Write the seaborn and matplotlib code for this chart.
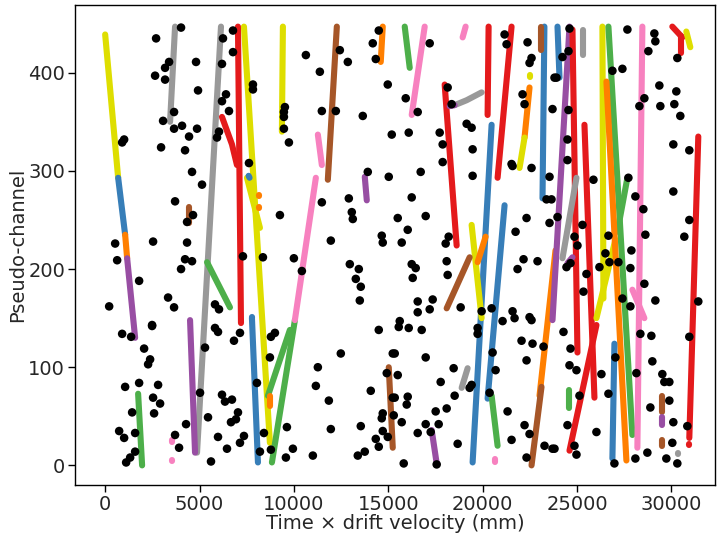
import matplotlib
matplotlib.use("Agg")
import matplotlib.pyplot as plt
import numpy as np
import pandas as pd
import seaborn as sns

# track segments: colour, x points (mm), y points (pseudo-channel)
track_color = [
    "yellow", "blue", "orange", "purple", "green", "gray", "gray", "purple",
    "pink", "pink", "green", "red", "red", "yellow", "yellow", "blue",
    "blue", "orange", "orange", "blue", "green", "green", "orange", "yellow",
    "pink", "pink", "brown", "purple", "orange", "brown", "green", "pink",
    "pink", "red", "gray", "purple", "red", "red", "blue", "blue",
    "blue", "yellow", "orange", "brown", "gray", "purple", "green", "pink",
    "orange", "brown", "orange", "yellow", "yellow", "brown", "blue", "purple",
    "red", "red", "red", "gray", "gray", "purple", "green", "yellow",
    "yellow", "green", "green", "orange", "pink", "pink", "blue", "red",
    "red", "yellow", "red", "red", "brown", "brown", "purple", "gray",
    "brown",
]
track_x = [
    [0, 688], [688, 1058], [1058, 1164], [1164, 1587], [1746, 1957],
    [3703, 3439], [6136, 4867], [4497, 4761], [3544, 3544], [3544, 3544],
    [5396, 6612], [6189, 6718, 6982], [7036, 7195], [7353, 8728], [7512, 8200],
    [7776, 8094], [7600, 7650], [8147, 8147], [8147, 8147], [7776, 7776],
    [10051, 8834], [9786, 8623], [8728, 8728], [9416, 9363],
    [11162, 10051], [11268, 11479], [12273, 11797], [13754, 13860],
    [14706, 14600], [15024, 15236], [15870, 16135], [16928, 16241],
    [19097, 18938], [17986, 18621], [18515, 19150, 19944], [18250, 18515],
    [20314, 20261], [21530, 20790], [20473, 19467], [21160, 20261],
    [23270, 23170], [19414, 19944], [19732, 20155], [18092, 19309],
    [19203, 18886], [17298, 17563], [20473, 20790], [20632, 20632],
    [23858, 23011], [23117, 22588], [22482, 22218], [22218, 21953],
    [22482, 22482], [23064, 23064], [23964, 24070], [24599, 23699],
    [24757, 25021], [25392, 25921], [26027, 24599], [25339, 25339],
    [24969, 24228], [24757, 24493], [24599, 24599], [26344, 26397],
    [26027, 27032], [26662, 27931], [27667, 27138], [26556, 27614],
    [28460, 28196], [27931, 28566], [26979, 26873], [30047, 30576],
    [30523, 30523], [30788, 31000], [31423, 30947], [30947, 30947],
    [29518, 29518], [29518, 29518], [29518, 29518], [30364, 30364],
    [4444, 4444],
]
track_y = [
    [439, 293], [293, 235], [235, 211], [211, 130], [73, 0],
    [447, 350], [447, 13], [148, 13], [26, 24], [6, 4],
    [207, 161], [355, 327, 306], [447, 145], [447, 23], [293, 242],
    [150, 3], [295, 293], [275, 274], [263, 262], [151, 150],
    [148, 3], [138, 71], [71, 61], [447, 340],
    [293, 148], [337, 306], [447, 291], [294, 270],
    [447, 411], [100, 18], [447, 405], [447, 357],
    [447, 436], [388, 224], [367, 372, 380], [366, 367],
    [447, 357], [447, 293], [347, 3], [265, 68],
    [447, 272], [245, 150], [207, 233], [160, 212],
    [99, 79], [36, 2], [71, 20], [7, 3],
    [219, 71], [80, 0], [385, 334], [334, 303],
    [398, 396], [447, 423], [447, 395], [447, 148],
    [444, 115], [347, 69], [143, 15], [444, 418],
    [293, 211], [212, 206], [77, 58], [447, 170],
    [150, 230], [447, 31], [293, 238], [391, 5],
    [447, 18], [179, 150], [124, 7], [447, 436],
    [437, 420], [442, 426], [335, 28], [22, 21],
    [71, 54], [26, 20], [49, 41], [13, 12],
    [263, 247],
]

# unassigned hits
noise_x = [
    4020, 2698, 3386, 3174, 4814, 2645, 3174, 4920, 3650, 3068, 3650, 4073, 4867, 4444,
    1005, 899, 2962, 4232, 6242, 6771, 6189, 6771, 6401, 6189, 6560, 6031, 5925,
    7829, 7829, 10633, 11374, 12432, 12855, 14177, 14336, 14495, 14971, 11479, 12220,
    13648, 15183, 9522, 9469, 9469, 9469, 9734, 7618,
    17193, 15923, 16558, 16082, 18145, 18356, 17722, 17880, 19467, 19150, 19414, 17880,
    21160, 21266, 22377, 22588, 22483, 22112, 22218, 23699, 21530, 23805,
    27667, 29095, 29148, 28778, 26873, 27402, 29360, 28566, 28302, 29412, 30259, 30153,
    30470, 30100, 30947, 30312, 24546, 24228, 24546, 24493, 24493, 24599, 23911,
    4602, 5131, 3703, 4655, 4338, 529, 2539, 4338, 635, 4232, 4602, 4020, 1799, 3333,
    3650, 212, 5819, 6031, 2486,
    13913, 15024, 12908, 11479, 13066, 13119, 9258, 11955, 14653, 14706, 7300, 8358,
    9998, 10421, 12961, 13437, 13278, 13542, 13490,
    16716, 19467, 16240, 16981, 15500, 16029, 15711, 18198, 18039, 18092, 18145, 16240,
    16452, 16293, 16558, 17351, 16558, 17193, 15606, 18833, 20473, 19944, 21583, 21689,
    22483, 22588, 21054, 22324, 21742, 22165, 22906, 21848, 23541, 23382, 23646, 23541,
    22588, 21583,
    25868, 27720, 28090, 28513, 23964, 25286, 24863, 25021, 26662, 26503, 26715, 27191,
    27878, 27825, 28619, 24440, 24652, 25498, 26186, 25339, 28566, 29148, 27825, 27402,
    30100, 30947, 30682, 31423,
    899, 1375, 2486, 2063, 2381, 2275, 1058, 1799, 2804, 2539, 2910, 1428, 2592, 741,
    1005, 1587, 1587, 1323, 1111, 3703, 3915, 4285, 5026, 5449, 5607, 5978, 6454, 6189,
    6348, 6718, 6665, 5290, 5819, 5978, 6824,
    7142, 8781, 8993, 8728, 8041, 7036, 6930, 7353, 7142, 8411, 8200, 8781, 9628, 9945,
    9575, 11003, 11268, 11162, 11850, 11955, 12484, 14495, 15236, 14071, 13542, 14706,
    14653, 15236, 15288, 14336, 14495, 14706, 14971, 13754, 13384, 14918,
    15553, 16082, 16769, 15341, 16981, 15500, 15341, 16029, 15976, 15711, 17510, 18092,
    18515, 18462, 17775, 16981, 16558, 17669, 17246, 18674, 15817, 19732, 19732, 20526,
    20685, 19309, 20367, 21319, 22059, 22641, 23223, 22324, 22218, 22483, 21530, 23276,
    23699, 22324, 17563, 19414,
    24281, 24652, 24599, 24969, 26291, 26662, 25128, 24493, 24863, 24969, 23805, 26027,
    27032, 28354, 28936, 28989, 28143, 28883, 29518, 29624, 29889, 29889, 30100, 30047,
    28725, 28090, 29730, 30312, 26979, 30947, 30841,
]
noise_y = [
    446, 435, 411, 405, 411, 397, 393, 382, 360, 351, 343, 346, 343, 335,
    332, 329, 324, 321, 435, 443, 409, 421, 378, 371, 361, 340, 334,
    388, 383, 418, 401, 423, 411, 430, 414, 443, 388, 361, 361,
    356, 337, 365, 360, 355, 343, 329, 308,
    430, 374, 360, 339, 385, 368, 339, 327, 322, 348, 344, 309,
    439, 429, 431, 415, 410, 378, 368, 363, 307, 395,
    444, 440, 432, 422, 402, 404, 387, 374, 366, 366, 381, 368,
    356, 327, 321, 415, 422, 416, 362, 332, 311, 445, 395,
    299, 286, 269, 255, 248, 226, 228, 227, 209, 210, 208, 200, 188, 171,
    161, 162, 164, 159, 143,
    299, 294, 272, 268, 258, 251, 255, 229, 234, 227, 213, 212,
    211, 198, 205, 200, 190, 182, 168,
    299, 295, 273, 254, 252, 240, 227, 233, 226, 208, 194, 205,
    201, 191, 167, 169, 156, 159, 147, 161, 160, 157, 157, 150,
    151, 148, 147, 252, 238, 210, 208, 200, 294, 271, 271, 247,
    303, 305,
    291, 293, 274, 261, 253, 245, 233, 224, 234, 216, 207, 207,
    219, 201, 235, 202, 206, 195, 202, 177, 185, 168, 162, 170,
    279, 250, 233, 167,
    134, 131, 142, 119, 108, 103, 80, 84, 82, 69, 63, 54, 53, 35,
    28, 33, 14, 8, 3, 31, 18, 42, 74, 49, 4, 29, 17, 72,
    65, 67, 44, 120, 140, 136, 127,
    135, 131, 135, 110, 84, 54, 47, 30, 23, 33, 14, 16, 39, 17,
    8, 10, 100, 81, 66, 37, 114, 138, 114, 76, 40, 53,
    48, 69, 51, 27, 19, 35, 29, 14, 10, 94,
    141, 140, 138, 114, 110, 92, 69, 70, 62, 44, 55, 58,
    71, 99, 85, 42, 33, 42, 34, 22, 2, 140, 134, 115,
    97, 79, 74, 55, 127, 124, 121, 107, 41, 32, 26, 20,
    17, 8, 1, 82,
    136, 119, 102, 97, 93, 73, 71, 41, 20, 11, 17, 34,
    110, 134, 132, 106, 94, 59, 93, 85, 85, 66, 44, 23,
    13, 7, 7, 2, 2, 131, 40,
]

palette = {
    "red": "#e41a1c", "blue": "#377eb8", "green": "#4daf4a", "purple": "#984ea3",
    "orange": "#ff7f00", "yellow": "#dede00", "brown": "#a65628", "pink": "#f781bf",
    "gray": "#999999",
}

sns.set_style("ticks")
fig = plt.figure(figsize=(7.25, 5.33), dpi=100)
ax = fig.add_axes([0.1034, 0.09, 0.8826, 0.9006])

for i, (xs, ys) in enumerate(zip(track_x, track_y)):
    seg = pd.DataFrame({"x": xs, "y": ys})
    sns.lineplot(data=seg, x="x", y="y", sort=False, estimator=None, ax=ax,
                 color=palette[track_color[i]], linewidth=4.4,
                 solid_capstyle="round")

noise = pd.DataFrame({"x": noise_x, "y": noise_y})
sns.scatterplot(data=noise, x="x", y="y", ax=ax, color="black", s=38,
                edgecolor="none", zorder=3)

ax.set_xlim(-1600, 32300)
ax.set_ylim(-20, 469)
ax.set_xticks([0, 5000, 10000, 15000, 20000, 25000, 30000])
ax.set_yticks([0, 100, 200, 300, 400])
ax.tick_params(labelsize=14, length=5, width=1, color="black", pad=2)
ax.set_xlabel("Time × drift velocity (mm)", fontsize=14, labelpad=0.5)
ax.set_ylabel("Pseudo-channel", fontsize=14, labelpad=1)
for s in ax.spines.values():
    s.set_color("black")
    s.set_linewidth(1)

fig.savefig("out.png", dpi=100)
